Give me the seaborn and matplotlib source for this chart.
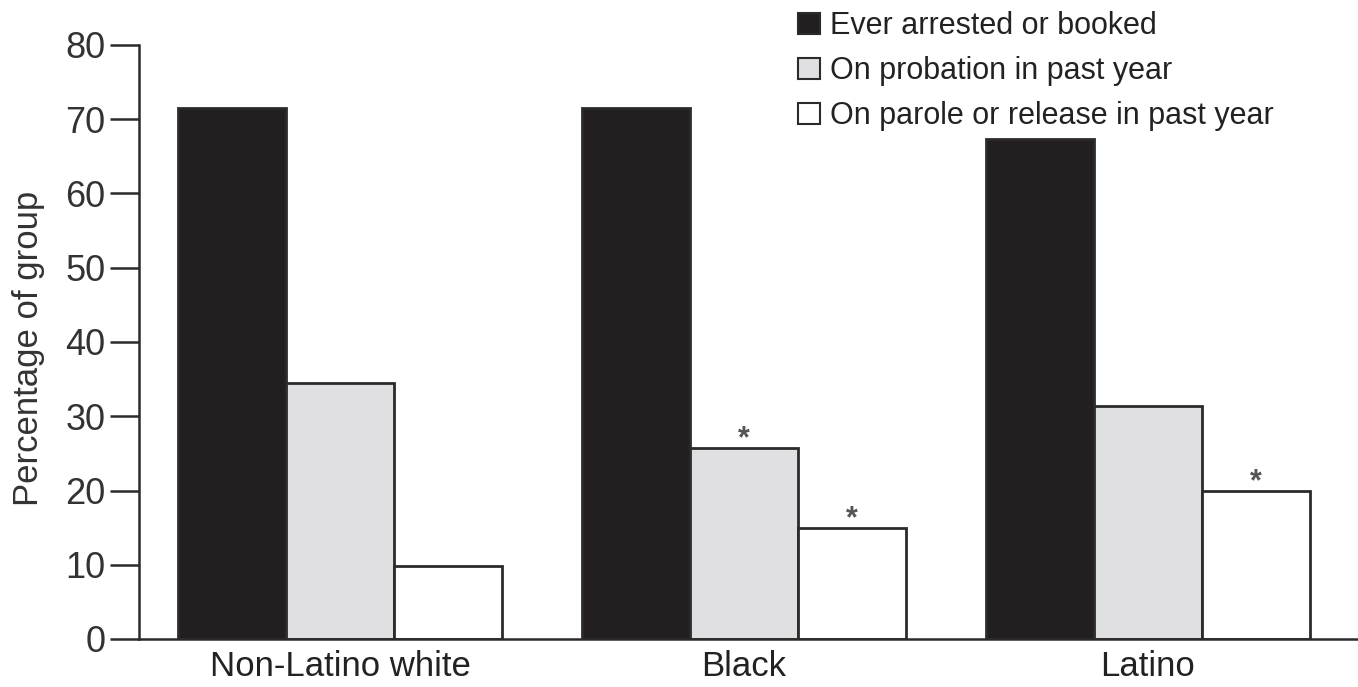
import matplotlib
matplotlib.use("Agg")
import matplotlib.pyplot as plt
import seaborn as sns
import pandas as pd
from matplotlib.patches import Patch

groups = ["Non-Latino white", "Black", "Latino"]
series = ["Ever arrested or booked", "On probation in past year", "On parole or release in past year"]
arrested = [71.5, 71.5, 67.3]
probation = [34.5, 25.7, 31.4]
parole = [9.8, 14.9, 19.9]
# significance markers (group index, series index)
stars = [(1, 1), (1, 2), (2, 2)]
yticks = [0, 10, 20, 30, 40, 50, 60, 70, 80]

sns.set_style("white")
plt.rcParams['font.family'] = ['Liberation Sans', 'DejaVu Sans']

rows = []
for s, vals in zip(series, [arrested, probation, parole]):
    for g, v in zip(groups, vals):
        rows.append({"group": g, "series": s, "value": v})
df = pd.DataFrame(rows)

fig = plt.figure(figsize=(13.58, 6.87), dpi=100)
ax = fig.add_axes([139/1358, 1 - 639/687, 1 - 139/1358, (639 - 45)/687])

palette = {series[0]: "#231f20", series[1]: "#e0e0e2", series[2]: "#ffffff"}
sns.barplot(data=df, x="group", y="value", hue="series", order=groups, hue_order=series,
            palette=palette, edgecolor="#2b2b2b", linewidth=2, width=0.8, saturation=1,
            ax=ax, legend=False)

ax.set_ylim(0, 80)
ax.set_xlim(-0.4975, 2.52)
ax.set_yticks(yticks)
ax.set_yticklabels([str(t) for t in yticks])
ax.set_xlabel("")
ax.set_ylabel("Percentage of group", fontsize=25, color="#333333")
ax.yaxis.set_label_coords(-0.077, 0.49)

for sp in ["top", "right"]:
    ax.spines[sp].set_visible(False)
for sp in ["left", "bottom"]:
    ax.spines[sp].set_color("#2b2b2b")
    ax.spines[sp].set_linewidth(1.8)

ax.tick_params(axis="y", direction="out", length=21, width=1.8, color="#2b2b2b",
               labelsize=26, labelcolor="#333333", pad=3, left=True)
ax.tick_params(axis="x", length=0, labelsize=25, labelcolor="#222222", pad=8)

# asterisks
n = len(series)
bw = 0.8 / n
vals_all = [arrested, probation, parole]
for gi, si in stars:
    x = gi - 0.4 + bw * (si + 0.5)
    y = vals_all[si][gi]
    ax.text(x, y - 0.85, "*", ha="center", va="bottom", fontsize=22,
            color="#555555", fontweight="bold")

handles = [Patch(facecolor=palette[s], edgecolor="#2b2b2b", linewidth=1.5) for s in series]
fig.legend(handles, series, loc="upper left", bbox_to_anchor=(783/1358, 1.006),
           frameon=False, fontsize=22, handlelength=0.7, handleheight=0.7,
           handletextpad=0.33, labelspacing=0.49, borderpad=0, labelcolor="#222222")

fig.savefig("out.png", dpi=100)
